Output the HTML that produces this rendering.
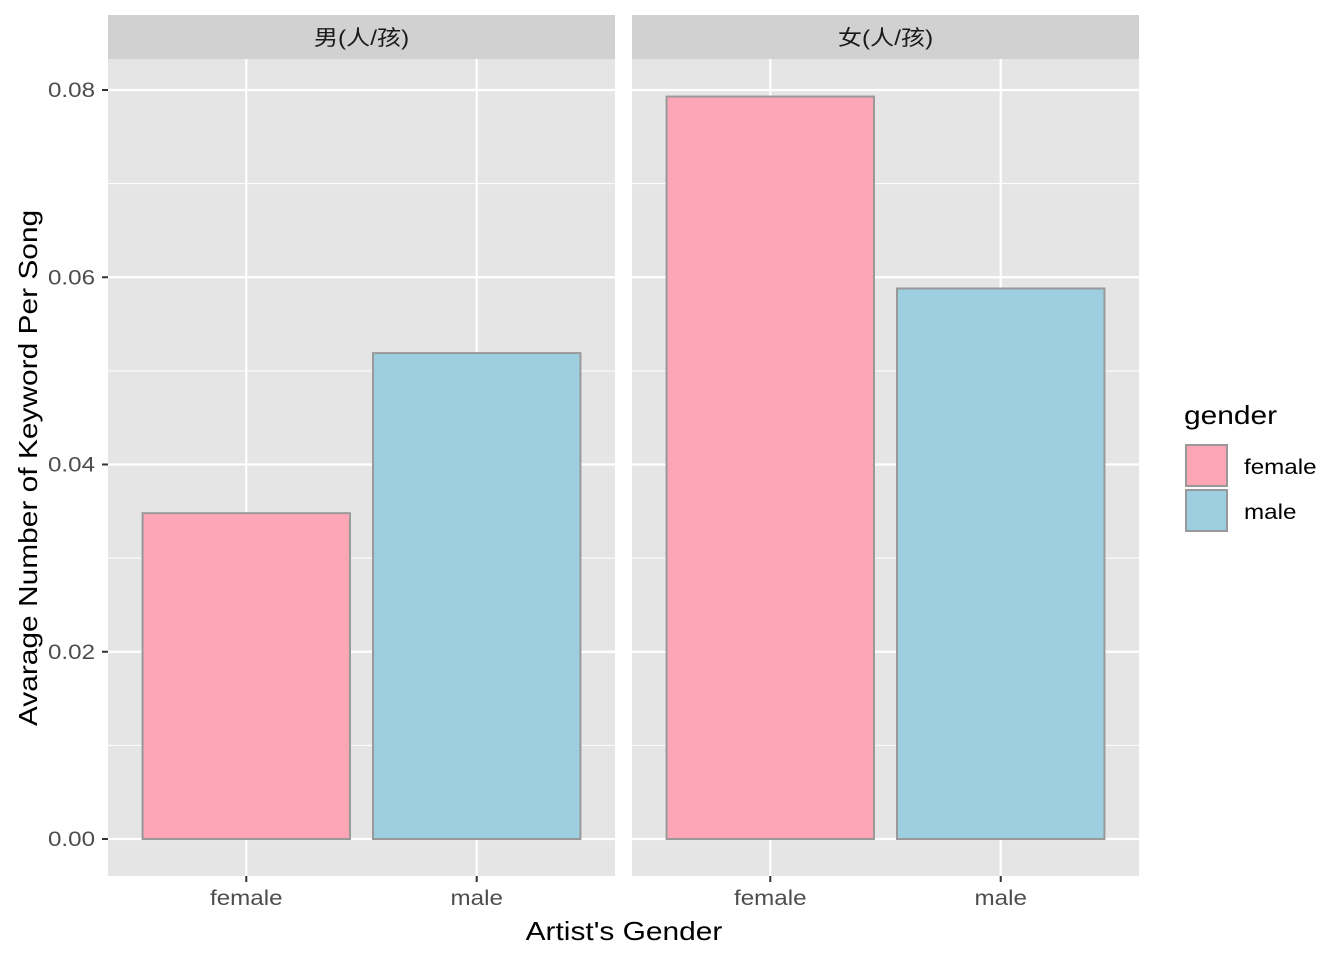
<!DOCTYPE html>
<html><head><meta charset="utf-8"><style>
body{margin:0;background:#fff;}
svg{display:block;font-family:"Liberation Sans","Noto Sans CJK SC",sans-serif;}
</style></head><body>
<svg id="chart" width="1344" height="960" xmlns="http://www.w3.org/2000/svg"></svg>
<script>
const panels = ["男(人/孩)", "女(人/孩)"];
const categories = ["female", "male"];
const panel1Values = [0.0348, 0.0519];
const panel2Values = [0.0793, 0.0588];
const yTicks = [0, 0.02, 0.04, 0.06, 0.08];
const yTickLabels = ["0.00", "0.02", "0.04", "0.06", "0.08"];
const colors = {female:"#FFA6B6", male:"#9ECFE1"};

const svgEl = document.getElementById('chart');
const NS = "http://www.w3.org/2000/svg";
const stretchList = [];
function makeEl(tag, attrs, parent){const e=document.createElementNS(NS,tag);for(const k in attrs)e.setAttribute(k,attrs[k]);(parent||svgEl).appendChild(e);if(tag==='text')stretchList.push(e);return e;}
const plotTop=59, plotBottom=876, panelW=507, panelX=[108,632];
function yScale(v){return 839 - v*(749/0.08);}
function xScale(i,px){return px + (0.6+i)*(panelW/2.2);}
const bw = 0.9*panelW/2.2;
const allValues=[panel1Values,panel2Values];

panels.forEach((p,pi)=>{
  const px=panelX[pi];
  const g=makeEl('g',{});
  
  
  const bg=makeEl('rect',{x:px,y:plotTop,width:panelW,height:plotBottom-plotTop,fill:'#E5E5E5'},g);
  
  
  const st=makeEl('rect',{x:px,y:15,width:panelW,height:44,fill:'#D1D1D1'},g);
  
  
  const stt=makeEl('text',{x:px+panelW/2,y:45,'text-anchor':'middle','font-size':'21',fill:'#1A1A1A'},g);
  stt.textContent=p;
  
  
  for(let k=0;k<yTicks.length-1;k++){
    const v=(yTicks[k]+yTicks[k+1])/2;
    makeEl('line',{x1:px,x2:px+panelW,y1:yScale(v),y2:yScale(v),stroke:'#fff','stroke-width':1},g);
  }
  yTicks.forEach(v=>makeEl('line',{x1:px,x2:px+panelW,y1:yScale(v),y2:yScale(v),stroke:'#fff','stroke-width':2.2},g));
  categories.forEach((c,i)=>{
    makeEl('line',{x1:xScale(i,px),x2:xScale(i,px),y1:plotTop,y2:plotBottom,stroke:'#fff','stroke-width':2.2},g);
  });
  categories.forEach((c,i)=>{
    const v=allValues[pi][i];
    const b=makeEl('rect',{x:xScale(i,px)-bw/2,y:yScale(v),width:bw,height:yScale(0)-yScale(v),fill:colors[c],stroke:'#999','stroke-width':2},g);
    
    
    makeEl('line',{x1:xScale(i,px),x2:xScale(i,px),y1:plotBottom,y2:plotBottom+6,stroke:'#333','stroke-width':2},g);
    const t=makeEl('text',{x:xScale(i,px),y:905,'text-anchor':'middle','font-size':'21',fill:'#4D4D4D'},g);
    t.textContent=c;
    
    
  });
});
yTicks.forEach((v,i)=>{
  makeEl('line',{x1:102,x2:108,y1:yScale(v),y2:yScale(v),stroke:'#333','stroke-width':2});
  const t=makeEl('text',{x:95,y:yScale(v)+7,'text-anchor':'end','font-size':'21',fill:'#4D4D4D'});
  t.textContent=yTickLabels[i];
  
  
});
const xt=makeEl('text',{x:624,y:940,'text-anchor':'middle','font-size':'26',fill:'#000'});
xt.textContent="Artist's Gender";


const yt=makeEl('text',{x:0,y:0,'text-anchor':'middle','font-size':'26',fill:'#000',transform:'translate(37,468) rotate(-90)'});
yt.textContent="Avarage Number of Keyword Per Song";


const lg=makeEl('g',{});


const lt=makeEl('text',{x:1184,y:424,'font-size':'26',fill:'#000'},lg);
lt.textContent="gender";


categories.forEach((c,i)=>{
  const yy=445+i*45;
  const r=makeEl('rect',{x:1186,y:yy,width:41,height:41,fill:colors[c],stroke:'#999','stroke-width':2},lg);
  
  
  const t=makeEl('text',{x:1244,y:yy+29,'font-size':'21',fill:'#000'},lg);
  t.textContent=c;
  
  
});
stretchList.forEach(t=>{
  try{
    const w=t.getComputedTextLength();
    t.setAttribute('textLength',(w*1.15).toFixed(1));
    t.setAttribute('lengthAdjust','spacingAndGlyphs');
  }catch(e){}
});
</script>
</body></html>
